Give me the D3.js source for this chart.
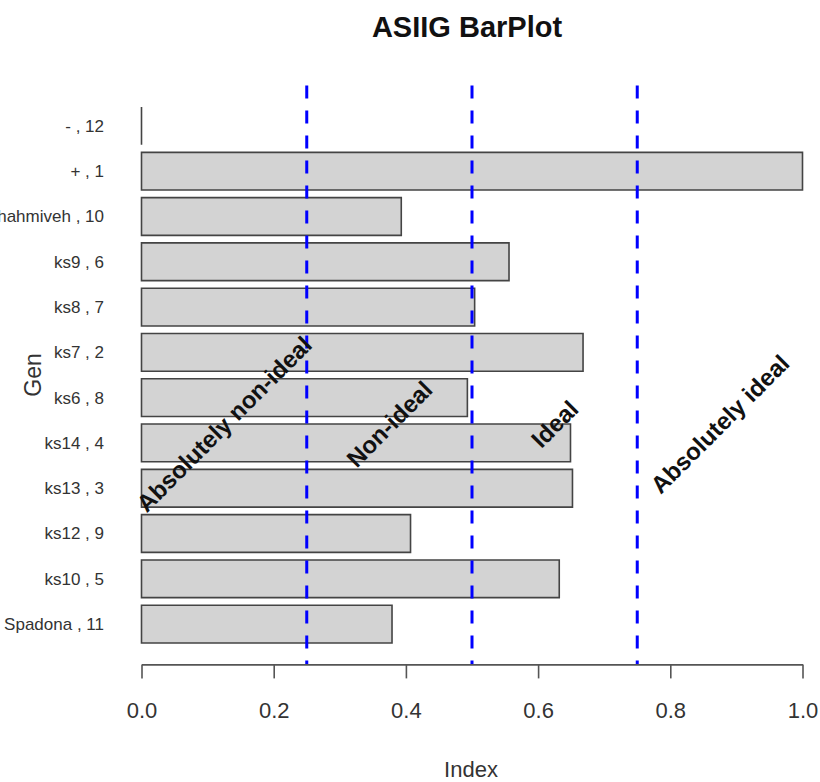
<!DOCTYPE html>
<html>
<head>
<meta charset="utf-8">
<script src="https://cdn.jsdelivr.net/npm/d3@7"></script>
<style>
  body { margin: 0; background: #fff; }
  text { font-family: "Liberation Sans", Arial, sans-serif; }
</style>
</head>
<body>
<div id="chart"></div>
<script>
// bottom to top, same order as the R barplot
const genotypes = ['Spadona , 11', 'ks10 , 5', 'ks12 , 9', 'ks13 , 3', 'ks14 , 4', 'ks6 , 8',
  'ks7 , 2', 'ks8 , 7', 'ks9 , 6', 'Shahmiveh , 10', '+ , 1', '- , 12'];
const indexValues = [0.379, 0.632, 0.407, 0.652, 0.649, 0.493, 0.668, 0.504, 0.556, 0.393, 1.0, 0.0];

const cutoffs = [0.25, 0.5, 0.75];
const zoneLabels = ['Absolutely non-ideal', 'Non-ideal', 'Ideal', 'Absolutely ideal'];
const zoneCenters = [0.125, 0.375, 0.625, 0.875];
const xTicks = [0, 0.2, 0.4, 0.6, 0.8, 1.0];

const width = 820;
const height = 782;

function drawChart() {
  const svg = d3.select('#chart')
    .append('svg')
    .attr('width', width)
    .attr('height', height);

  // barplot units: bar i spans 0.2 + 1.2*i .. 1.2 + 1.2*i
  const n = genotypes.length;
  const yMax = 1.2 * n;
  const pad = (yMax - 0.2) * 0.04;

  const x = d3.scaleLinear().domain([0, 1]).range([141.5, 802.5]);
  const y = d3.scaleLinear().domain([0.2 - pad, yMax + pad]).range([664.4, 85.6]);

  // bars as paths so a zero value still shows its outline
  svg.append('g')
    .selectAll('path')
    .data(indexValues)
    .enter().append('path')
    .attr('d', (d, i) => {
      const x0 = x(0), x1 = x(d);
      const y0 = y(1.2 + 1.2 * i), y1 = y(0.2 + 1.2 * i);
      return `M${x0},${y0}H${x1}V${y1}H${x0}Z`;
    })
    .attr('fill', '#d3d3d3')
    .attr('stroke', '#444')
    .attr('stroke-width', 1.6);

  // genotype names
  svg.append('g')
    .selectAll('text')
    .data(genotypes)
    .enter().append('text')
    .attr('x', 104)
    .attr('y', (d, i) => y(0.7 + 1.2 * i))
    .attr('dy', '0.35em')
    .attr('text-anchor', 'end')
    .attr('font-size', 17)
    .attr('fill', '#333')
    .text(d => d);

  // cutoff lines
  svg.append('g')
    .selectAll('line')
    .data(cutoffs)
    .enter().append('line')
    .attr('x1', d => x(d))
    .attr('x2', d => x(d))
    .attr('y1', y.range()[1])
    .attr('y2', y.range()[0])
    .attr('stroke', '#0000ff')
    .attr('stroke-width', 3)
    .attr('stroke-dasharray', '13,12');

  // zone labels, rotated 45 degrees
  const labelY = y(6);
  svg.append('g')
    .selectAll('text')
    .data(zoneLabels)
    .enter().append('text')
    .attr('transform', (d, i) => `translate(${x(zoneCenters[i])},${labelY}) rotate(-45)`)
    .attr('text-anchor', 'middle')
    .attr('dy', '0.35em')
    .attr('font-size', 24)
    .attr('font-weight', 'bold')
    .attr('fill', '#111')
    .text(d => d);

  // x axis
  const axis = svg.append('g')
    .attr('transform', `translate(0,${y.range()[0]})`)
    .call(d3.axisBottom(x)
      .tickValues(xTicks)
      .tickFormat(d3.format('.1f'))
      .tickSize(14)
      .tickSizeOuter(0)
      .tickPadding(24));

  axis.select('.domain').attr('stroke', '#555').attr('stroke-width', 1.6);
  axis.selectAll('.tick line').attr('stroke', '#555').attr('stroke-width', 1.6);
  axis.selectAll('.tick text')
    .attr('font-size', 22)
    .attr('fill', '#333');

  // titles
  svg.append('text')
    .attr('x', 467)
    .attr('y', 37)
    .attr('text-anchor', 'middle')
    .attr('font-size', 29)
    .attr('font-weight', 'bold')
    .attr('fill', '#111')
    .text('ASIIG BarPlot');

  svg.append('text')
    .attr('x', 471)
    .attr('y', 777)
    .attr('text-anchor', 'middle')
    .attr('font-size', 22)
    .attr('fill', '#333')
    .text('Index');

  svg.append('text')
    .attr('transform', `translate(41,${(y.range()[0] + y.range()[1]) / 2}) rotate(-90)`)
    .attr('text-anchor', 'middle')
    .attr('font-size', 23)
    .attr('fill', '#333')
    .text('Gen');
}

drawChart();
</script>
</body>
</html>
